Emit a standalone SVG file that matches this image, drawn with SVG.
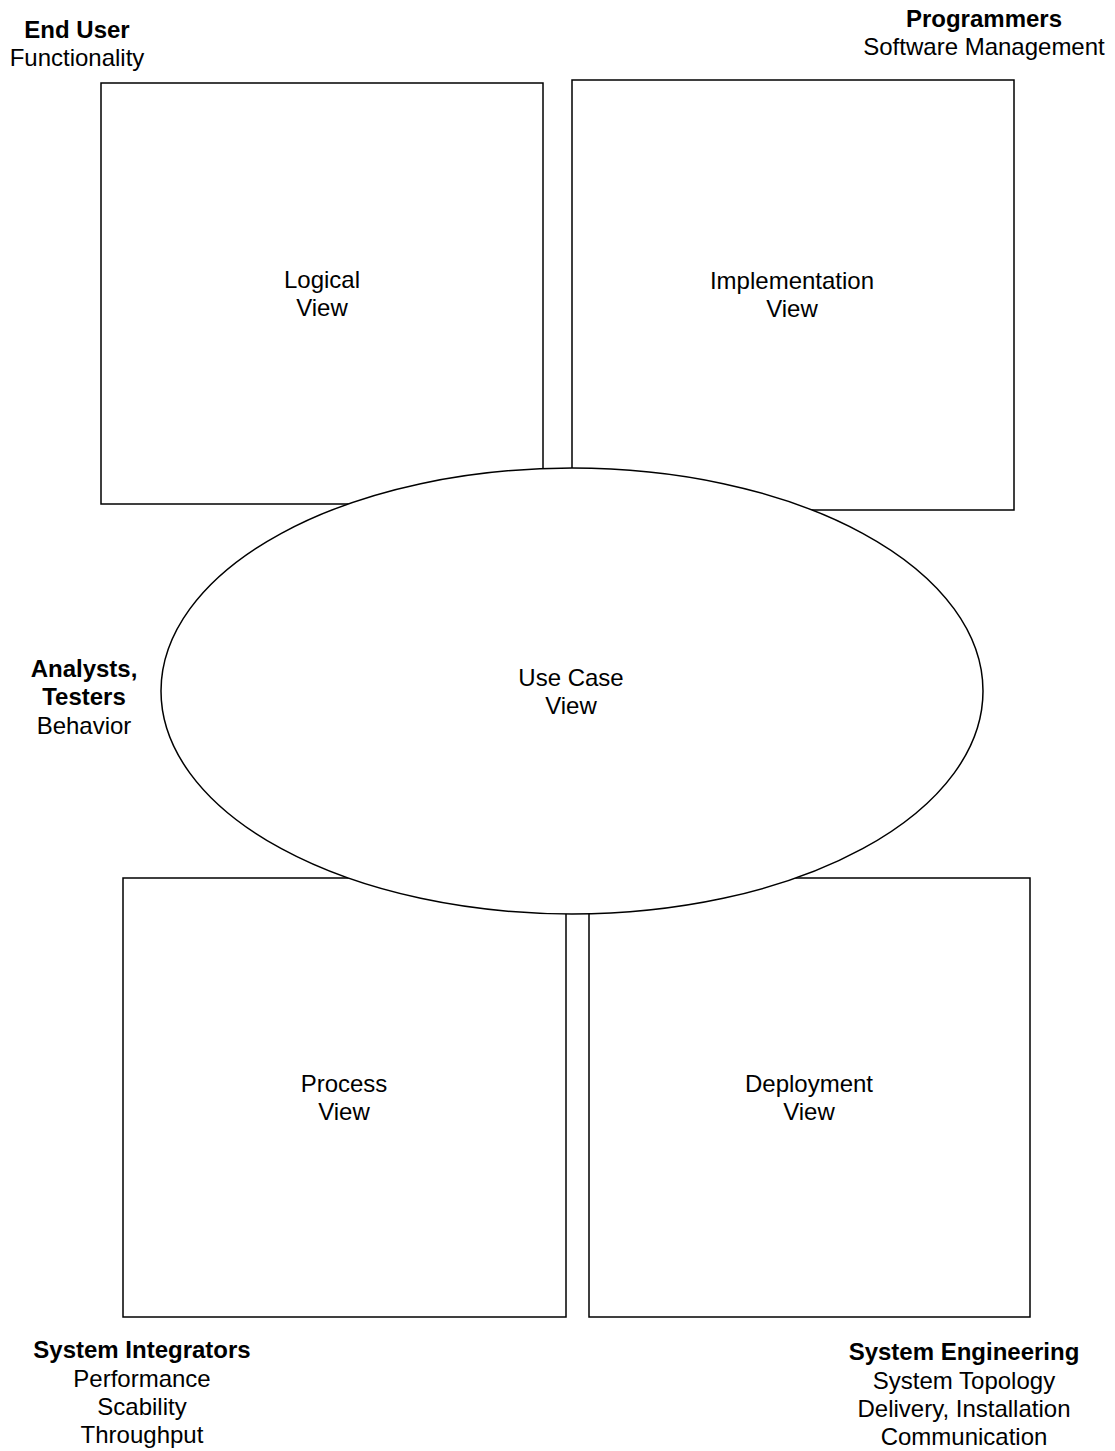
<svg xmlns="http://www.w3.org/2000/svg" width="1115" height="1451" viewBox="0 0 1115 1451">
<style>
.box{fill:#fff;stroke:#000;stroke-width:1.5}
text{font-family:"Liberation Sans",Arial,sans-serif;font-size:24px;fill:#000;text-anchor:middle}
.b{font-weight:bold}
</style>
<rect width="1115" height="1451" fill="#fff"/>
<g id="connectors"></g>
<g id="logical"><rect class="box" x="101" y="83" width="442" height="421"/><text x="322" y="288">Logical</text><text x="322" y="316">View</text></g>
<g id="implementation"><rect class="box" x="572" y="80" width="442" height="430"/><text x="792" y="289">Implementation</text><text x="792" y="317">View</text></g>
<g id="process"><rect class="box" x="123" y="878" width="443" height="439"/><text x="344" y="1092">Process</text><text x="344" y="1120">View</text></g>
<g id="deployment"><rect class="box" x="589" y="878" width="441" height="439"/><text x="809" y="1092">Deployment</text><text x="809" y="1120">View</text></g>
<g id="usecase"><ellipse class="box" cx="572" cy="691" rx="411" ry="223"/><text x="571" y="686">Use Case</text><text x="571" y="714">View</text></g>
<g id="enduser"><text class="b" x="77" y="38">End User</text><text x="77" y="66">Functionality</text></g>
<g id="programmers"><text class="b" x="984" y="27">Programmers</text><text x="984" y="55">Software Management</text></g>
<g id="analysts"><text class="b" x="84" y="677">Analysts,</text><text class="b" x="84" y="705">Testers</text><text x="84" y="734">Behavior</text></g>
<g id="integrators"><text class="b" x="142" y="1358">System Integrators</text><text x="142" y="1387">Performance</text><text x="142" y="1415">Scability</text><text x="142" y="1443">Throughput</text></g>
<g id="engineering"><text class="b" x="964" y="1360">System Engineering</text><text x="964" y="1389">System Topology</text><text x="964" y="1417">Delivery, Installation</text><text x="964" y="1445">Communication</text></g>
</svg>
